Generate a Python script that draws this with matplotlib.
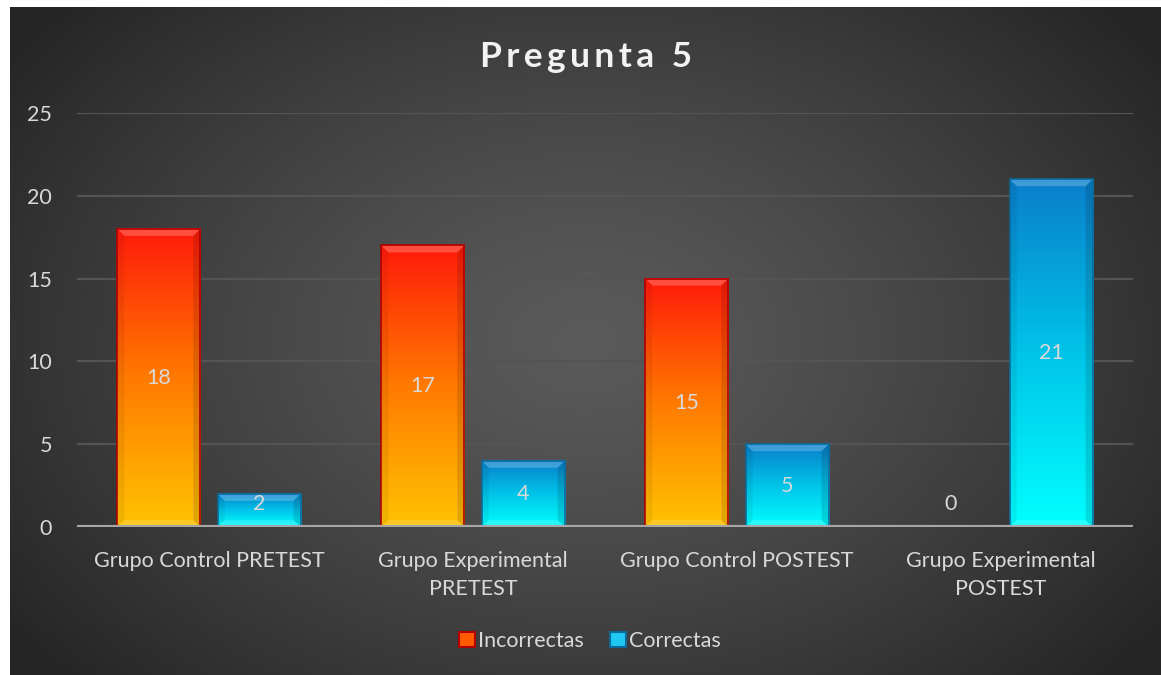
import numpy as np
import matplotlib
matplotlib.use('Agg')
import matplotlib.pyplot as plt
from matplotlib.colors import LinearSegmentedColormap
from matplotlib.patches import Patch, Polygon

plt.rcParams['font.family'] = ['Lato', 'DejaVu Sans']

categories = ['Grupo Control PRETEST', 'Grupo Experimental\nPRETEST',
              'Grupo Control POSTEST', 'Grupo Experimental\nPOSTEST']
incorrectas = [18, 17, 15, 0]
correctas = [2, 4, 5, 21]
series_names = ['Incorrectas', 'Correctas']

W, H = 1161, 675
fig = plt.figure(figsize=(W / 100, H / 100), dpi=100)
fig.patch.set_facecolor('white')

# fondo con degradado radial
bg = fig.add_axes([10 / W, 0, (W - 10) / W, (H - 7) / H])
bg.set_axis_off()
yy, xx = np.mgrid[0:1:300j, 0:1:500j]
r = np.sqrt(((xx - 0.5) / 0.62) ** 2 + ((yy - 0.5) / 0.75) ** 2)
r = np.clip(r, 0, 1)
level = 0x5a - (0x5a - 0x25) * r ** 1.3
img = np.dstack([level, level, level]) / 255.0
bg.imshow(img, aspect='auto', extent=[0, 1, 0, 1], origin='lower')
bg.set_xlim(0, 1)
bg.set_ylim(0, 1)

fs = 15.5
ax = fig.add_axes([77 / W, (H - 527) / H, (1133 - 77) / W, (527 - 113) / H])
ax.patch.set_alpha(0)
for s in ax.spines.values():
    s.set_visible(False)
ax.set_yticks([0, 5, 10, 15, 20, 25])
ax.yaxis.grid(True, color='#545454', linewidth=1.6)
ax.set_axisbelow(True)
ax.axhline(0, color='#a6a6a6', linewidth=3, zorder=6)
ax.tick_params(axis='y', length=0, pad=18, labelsize=fs, labelcolor='#d9d9d9')
ax.tick_params(axis='x', length=0, pad=17, labelsize=fs, labelcolor='#d9d9d9')
ax.set_xticks(range(len(categories)))
ax.set_xticklabels(categories, linespacing=1.5)

cmap_red = LinearSegmentedColormap.from_list('r', ['#ffc300', '#ff7a00', '#ff1a0a'])
cmap_blue = LinearSegmentedColormap.from_list('b', ['#00ffff', '#00c4e8', '#0a7ecb'])
width = 0.315
offset = 0.19
grad = np.linspace(0, 1, 256).reshape(-1, 1)


def draw_bar(x, v, cmap, edge):
    if v <= 0:
        return
    x0, x1 = x - width / 2, x + width / 2
    ax.imshow(grad, cmap=cmap, aspect='auto', origin='lower',
              extent=[x0, x1, 0, v], zorder=3, interpolation='bilinear')
    bw, bh = 0.027, 0.42
    ax.add_patch(Polygon([[x0, v], [x1, v], [x1 - bw, v - bh], [x0 + bw, v - bh]],
                         closed=True, facecolor='white', alpha=0.22, lw=0, zorder=4))
    ax.add_patch(Polygon([[x0, 0], [x1, 0], [x1 - bw, bh], [x0 + bw, bh]],
                         closed=True, facecolor='white', alpha=0.15, lw=0, zorder=4))
    ax.add_patch(Polygon([[x1, 0], [x1, v], [x1 - bw, v - bh], [x1 - bw, bh]],
                         closed=True, facecolor='black', alpha=0.12, lw=0, zorder=4))
    ax.add_patch(Polygon([[x0, 0], [x0, v], [x0 + bw, v - bh], [x0 + bw, bh]],
                         closed=True, facecolor='black', alpha=0.06, lw=0, zorder=4))
    ax.add_patch(plt.Rectangle((x0, 0), width, v, facecolor='none', edgecolor=edge,
                               linewidth=1.2, zorder=5))


for i in range(len(categories)):
    draw_bar(i - offset, incorrectas[i], cmap_red, '#b00000')
    draw_bar(i + offset, correctas[i], cmap_blue, '#0a6a9a')
    for x, v in [(i - offset, incorrectas[i]), (i + offset, correctas[i])]:
        ax.text(x, max(v / 2, 1.4), str(v), ha='center', va='center',
                fontsize=fs, color='#d9d9d9', zorder=7)

ax.set_xlim(-0.5, 3.5)
ax.set_ylim(0, 25)

title = '\u2009'.join('Pregunta 5')
fig.text(0.5045, (H - 57) / H, title, ha='center', va='center',
         fontsize=25.5, fontweight='bold', color='#f2f2f2')

handles = [Patch(facecolor='#ff5a00', edgecolor='#b00000', linewidth=1.5),
           Patch(facecolor='#1ec8f0', edgecolor='#0a6a9a', linewidth=1.5)]
leg = fig.legend(handles, series_names, loc='center', bbox_to_anchor=(0.508, (H - 641) / H),
                 ncol=2, frameon=False, fontsize=fs, handlelength=0.75, handleheight=0.75,
                 handletextpad=0.15, columnspacing=1.2)
for t in leg.get_texts():
    t.set_color('#d9d9d9')

fig.savefig('out.png', dpi=100, facecolor=fig.get_facecolor())
